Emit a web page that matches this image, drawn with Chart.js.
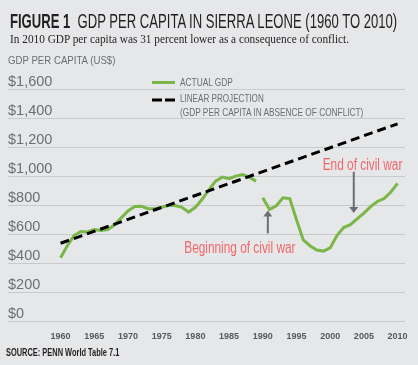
<!DOCTYPE html>
<html>
<head>
<meta charset="utf-8">
<script src="https://cdn.jsdelivr.net/npm/chart.js@4.4.1/dist/chart.umd.min.js"></script>
<style>
    body { margin: 0; background: #e6e7e8; width: 418px; height: 365px; overflow: hidden; position: relative; }
    #gdpChart { position: absolute; left: 0; top: 0; }
    .txt { position: absolute; white-space: nowrap; font-family: "Liberation Sans", Arial, sans-serif; transform-origin: 0 0; }
    #title { left: 10px; top: 11.5px; font-size: 19.5px; line-height: 19.5px; color: #231f20; }
    #title b { font-weight: bold; }
    #subtitle { left: 10px; top: 33px; font-family: "Liberation Serif", serif; font-size: 12px; line-height: 12px; color: #231f20; }
    #axisTitle { left: 8px; top: 54.5px; font-size: 11px; line-height: 11px; color: #6d6e71; }
    .leg { left: 180px; font-size: 11px; line-height: 11px; color: #6d6e71; }
    #source { left: 6px; top: 348px; font-size: 10px; line-height: 10px; font-weight: bold; color: #231f20; }
</style>
</head>
<body>
<canvas id="gdpChart" width="418" height="365"></canvas>
<div class="txt" id="title" data-w="387"><b>FIGURE 1</b>&nbsp; GDP PER CAPITA IN SIERRA LEONE (1960 TO 2010)</div>
<div class="txt" id="subtitle" data-w="339">In 2010 GDP per capita was 31 percent lower as a consequence of conflict.</div>
<div class="txt" id="axisTitle" data-w="107">GDP PER CAPITA (US$)</div>
<div class="txt leg" style="top:76.6px" data-w="53">ACTUAL GDP</div>
<div class="txt leg" style="top:92.6px" data-w="84">LINEAR PROJECTION</div>
<div class="txt leg" style="top:106.6px" data-w="183">(GDP PER CAPITA IN ABSENCE OF CONFLICT)</div>
<div class="txt" id="source" data-w="113">SOURCE: PENN World Table 7.1</div>
<script>
// dane
const years = [1960, 1961, 1962, 1963, 1964, 1965, 1966, 1967, 1968, 1969,
               1970, 1971, 1972, 1973, 1974, 1975, 1976, 1977, 1978, 1979,
               1980, 1981, 1982, 1983, 1984, 1985, 1986, 1987, 1988, 1989,
               1990, 1991, 1992, 1993, 1994, 1995, 1996, 1997, 1998, 1999,
               2000, 2001, 2002, 2003, 2004, 2005, 2006, 2007, 2008, 2009, 2010];
const actualGdp = [437, 520, 590, 618, 615, 632, 625, 632, 662, 712,
                   760, 790, 792, 775, 775, 785, 797, 797, 785, 752,
                   785, 840, 905, 965, 993, 982, 1000, 1010, 993, 965,
                   850, 770, 795, 850, 845, 700, 560, 520, 490, 483,
                   505, 590, 645, 665, 705, 745, 790, 825, 845, 890, 950];
const breakAfterYear = 1989; // przerwa w serii (poczatek wojny)
const projectionYears = [1960, 2010];
const projectionGdp = [537, 1360];
const xTickYears = [1960, 1965, 1970, 1975, 1980, 1985, 1990, 1995, 2000, 2005, 2010];
const yTickValues = [0, 200, 400, 600, 800, 1000, 1200, 1400, 1600];

const green = '#7ab648';
const red = '#f0676b';
const grey = '#6d6e71';
const sans = '"Liberation Sans", Arial, sans-serif';

// waski krój: zwężamy teksty do szerokości z oryginału
document.querySelectorAll('.txt[data-w]').forEach(el => {
    const w = parseFloat(el.dataset.w);
    el.style.transform = `scaleX(${w / el.offsetWidth})`;
});

// adnotacje: strzalki i podpisy
const notes = [
    { text: 'Beginning of civil war', textYear: 1986.6, textValue: 500, arrowYear: 1990.75, from: 605, to: 762 },
    { text: 'End of civil war', textYear: 2004.8, textValue: 1072, arrowYear: 2003.5, from: 1030, to: 746 }
];

const notesPlugin = {
    id: 'notes',
    afterDatasetsDraw(chart) {
        const { ctx, scales: { x, y } } = chart;
        ctx.save();
        notes.forEach(n => {
            const ax = x.getPixelForValue(n.arrowYear);
            const y0 = y.getPixelForValue(n.from);
            const y1 = y.getPixelForValue(n.to);
            const dir = y1 < y0 ? 1 : -1;
            ctx.strokeStyle = grey;
            ctx.fillStyle = grey;
            ctx.lineWidth = 2;
            ctx.beginPath();
            ctx.moveTo(ax, y0);
            ctx.lineTo(ax, y1 + dir * 5);
            ctx.stroke();
            ctx.beginPath();
            ctx.moveTo(ax, y1);
            ctx.lineTo(ax - 4.5, y1 + dir * 6);
            ctx.lineTo(ax + 4.5, y1 + dir * 6);
            ctx.closePath();
            ctx.fill();

            ctx.save();
            ctx.translate(x.getPixelForValue(n.textYear), y.getPixelForValue(n.textValue));
            ctx.scale(0.74, 1);
            ctx.fillStyle = red;
            ctx.font = '16px ' + sans;
            ctx.textAlign = 'center';
            ctx.textBaseline = 'middle';
            ctx.fillText(n.text, 0, 0);
            ctx.restore();
        });

        // probki legendy
        ctx.lineWidth = 3;
        ctx.strokeStyle = green;
        ctx.beginPath();
        ctx.moveTo(152, 82.5);
        ctx.lineTo(175, 82.5);
        ctx.stroke();
        ctx.strokeStyle = '#000';
        ctx.setLineDash([10, 3]);
        ctx.beginPath();
        ctx.moveTo(152, 100);
        ctx.lineTo(175, 100);
        ctx.stroke();
        ctx.restore();
    }
};

new Chart(document.getElementById('gdpChart').getContext('2d'), {
    type: 'line',
    data: {
        datasets: [{
            label: 'Actual GDP',
            data: years.map((yr, i) => ({ x: yr, y: actualGdp[i] })),
            borderColor: green,
            borderWidth: 3,
            pointRadius: 0,
            tension: 0,
            segment: {
                borderColor: c => c.p0.parsed.x === breakAfterYear ? 'transparent' : green
            },
            order: 2
        }, {
            label: 'Linear projection',
            data: projectionYears.map((yr, i) => ({ x: yr, y: projectionGdp[i] })),
            borderColor: '#000',
            borderWidth: 3,
            borderDash: [9, 5],
            pointRadius: 0,
            order: 1
        }]
    },
    options: {
        responsive: false,
        animation: false,
        layout: { padding: { top: 89, left: 8, right: 13, bottom: 21 } },
        plugins: {
            legend: { display: false },
            tooltip: { enabled: false }
        },
        scales: {
            x: {
                type: 'linear',
                min: 1952.2,
                max: 2011.1,
                grid: { display: false },
                border: { display: false },
                afterBuildTicks: axis => { axis.ticks = xTickYears.map(v => ({ value: v })); },
                ticks: {
                    padding: 2,
                    maxRotation: 0,
                    autoSkip: false,
                    color: '#58595b',
                    font: { family: sans, size: 9, weight: 'bold' },
                    callback: v => String(v)
                }
            },
            y: {
                min: 0,
                max: 1600,
                afterBuildTicks: axis => { axis.ticks = yTickValues.map(v => ({ value: v })); },
                grid: { color: '#c9cacc', lineWidth: 1, drawTicks: false },
                border: { display: false },
                ticks: {
                    mirror: true,
                    padding: 0,
                    labelOffset: -7.5,
                    color: grey,
                    font: { family: sans, size: 14.5 },
                    callback: v => '$' + v.toLocaleString('en-US')
                }
            }
        }
    },
    plugins: [notesPlugin]
});
</script>
</body>
</html>
